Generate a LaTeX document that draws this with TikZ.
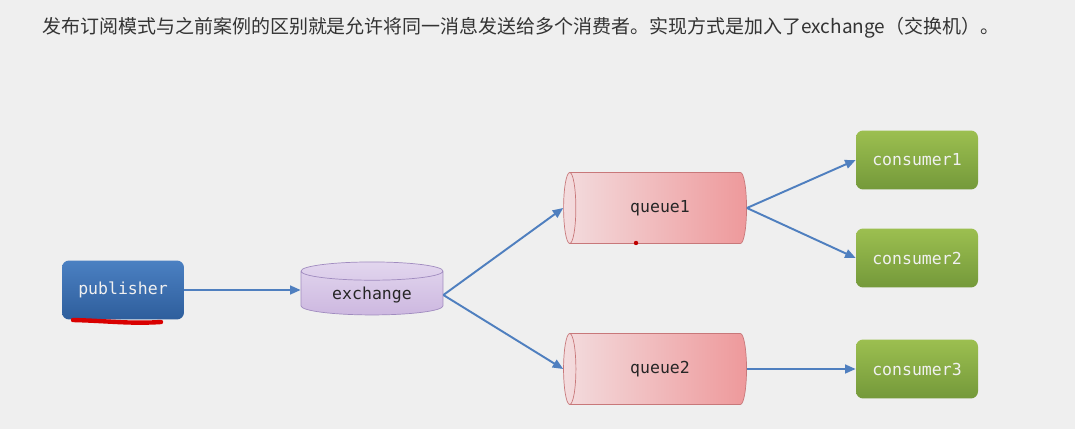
\documentclass[tikz,border=0pt]{standalone}
\usepackage{fontspec}
\setmonofont{DejaVu Sans Mono}
\newfontfamily\cjk{Noto Sans CJK SC}
\usepackage{xcolor}
\usetikzlibrary{arrows.meta,positioning,shapes.geometric}
\definecolor{bggray}{HTML}{EFEFEF}
\definecolor{pubtop}{HTML}{4B80C2}
\definecolor{pubbot}{HTML}{2E5E9C}
\definecolor{constop}{HTML}{9CBF50}
\definecolor{consbot}{HTML}{74993A}
\definecolor{extop}{HTML}{E2D6EE}
\definecolor{exbot}{HTML}{CDB8E0}
\definecolor{exline}{HTML}{A08BBF}
\definecolor{qleft}{HTML}{F3DCDE}
\definecolor{qright}{HTML}{EE999B}
\definecolor{qline}{HTML}{C8787A}
\definecolor{arrblue}{HTML}{4F7FBF}
\definecolor{titlegray}{HTML}{333333}
\begin{document}
\begin{tikzpicture}[x=0.02cm, y=-0.02cm,
  box/.style={rectangle, rounded corners=4pt, minimum width=2.44cm,
    minimum height=1.18cm, text=white!94!black,
    font=\ttfamily\fontsize{9.4pt}{11pt}\selectfont},
  pub/.style={box, top color=pubtop, bottom color=pubbot},
  cons/.style={box, top color=constop, bottom color=consbot},
  exch/.style={cylinder, shape border rotate=90, aspect=0.2, draw=exline,
    top color=extop, bottom color=exbot, minimum width=2.84cm,
    minimum height=1.06cm, text=black!85,
    font=\ttfamily\fontsize{9.4pt}{11pt}\selectfont},
  que/.style={cylinder, shape border rotate=180, aspect=0.45, draw=qline,
    left color=qleft, right color=qright, minimum width=1.42cm,
    minimum height=3.66cm, text=black!85,
    font=\ttfamily\fontsize{9.4pt}{11pt}\selectfont},
  arr/.style={-{Triangle[length=6pt,width=5pt]}, draw=arrblue,
    line width=1.1pt}]
  \useasboundingbox[fill=bggray] (0,0) rectangle (1075,429);
  % title line
  \node[anchor=west, inner sep=0pt, text=titlegray,
    font=\cjk\fontsize{10.8pt}{13pt}\selectfont] (title) at (42,28)
    {发布订阅模式与之前案例的区别就是允许将同一消息发送给多个消费者。实现方式是加入了exchange（交换机）。};
  % nodes
  \node[pub]  (publisher) at (123,290) {publisher};
  \node[exch] (exchange)  at (372,295) {exchange};
  \node[que]  (queue1)    at (660,208) {queue1};
  \node[que]  (queue2)    at (660,369) {queue2};
  \node[cons] (consumer1) at (917,160) {consumer1};
  \node[cons] (consumer2) at (917,258) {consumer2};
  \node[cons] (consumer3) at (917,369) {consumer3};
  % arrows
  \draw[arr] (publisher.east) -- (publisher.east -| exchange.west);
  \draw[arr] (exchange.east) -- (queue1.west);
  \draw[arr] (exchange.east) -- (queue2.west);
  \draw[arr] (queue1.east) -- (consumer1.west);
  \draw[arr] (queue1.east) -- (consumer2.west);
  \draw[arr] (queue2.east) -- (consumer3.west);
  % red marks
  \draw[red!85!black, line width=2.5pt, line cap=round]
    (73,320) .. controls (110,321) and (130,324) .. (161,322);
  \fill[red!75!black] (636,243) circle (2.2);
\end{tikzpicture}
\end{document}
